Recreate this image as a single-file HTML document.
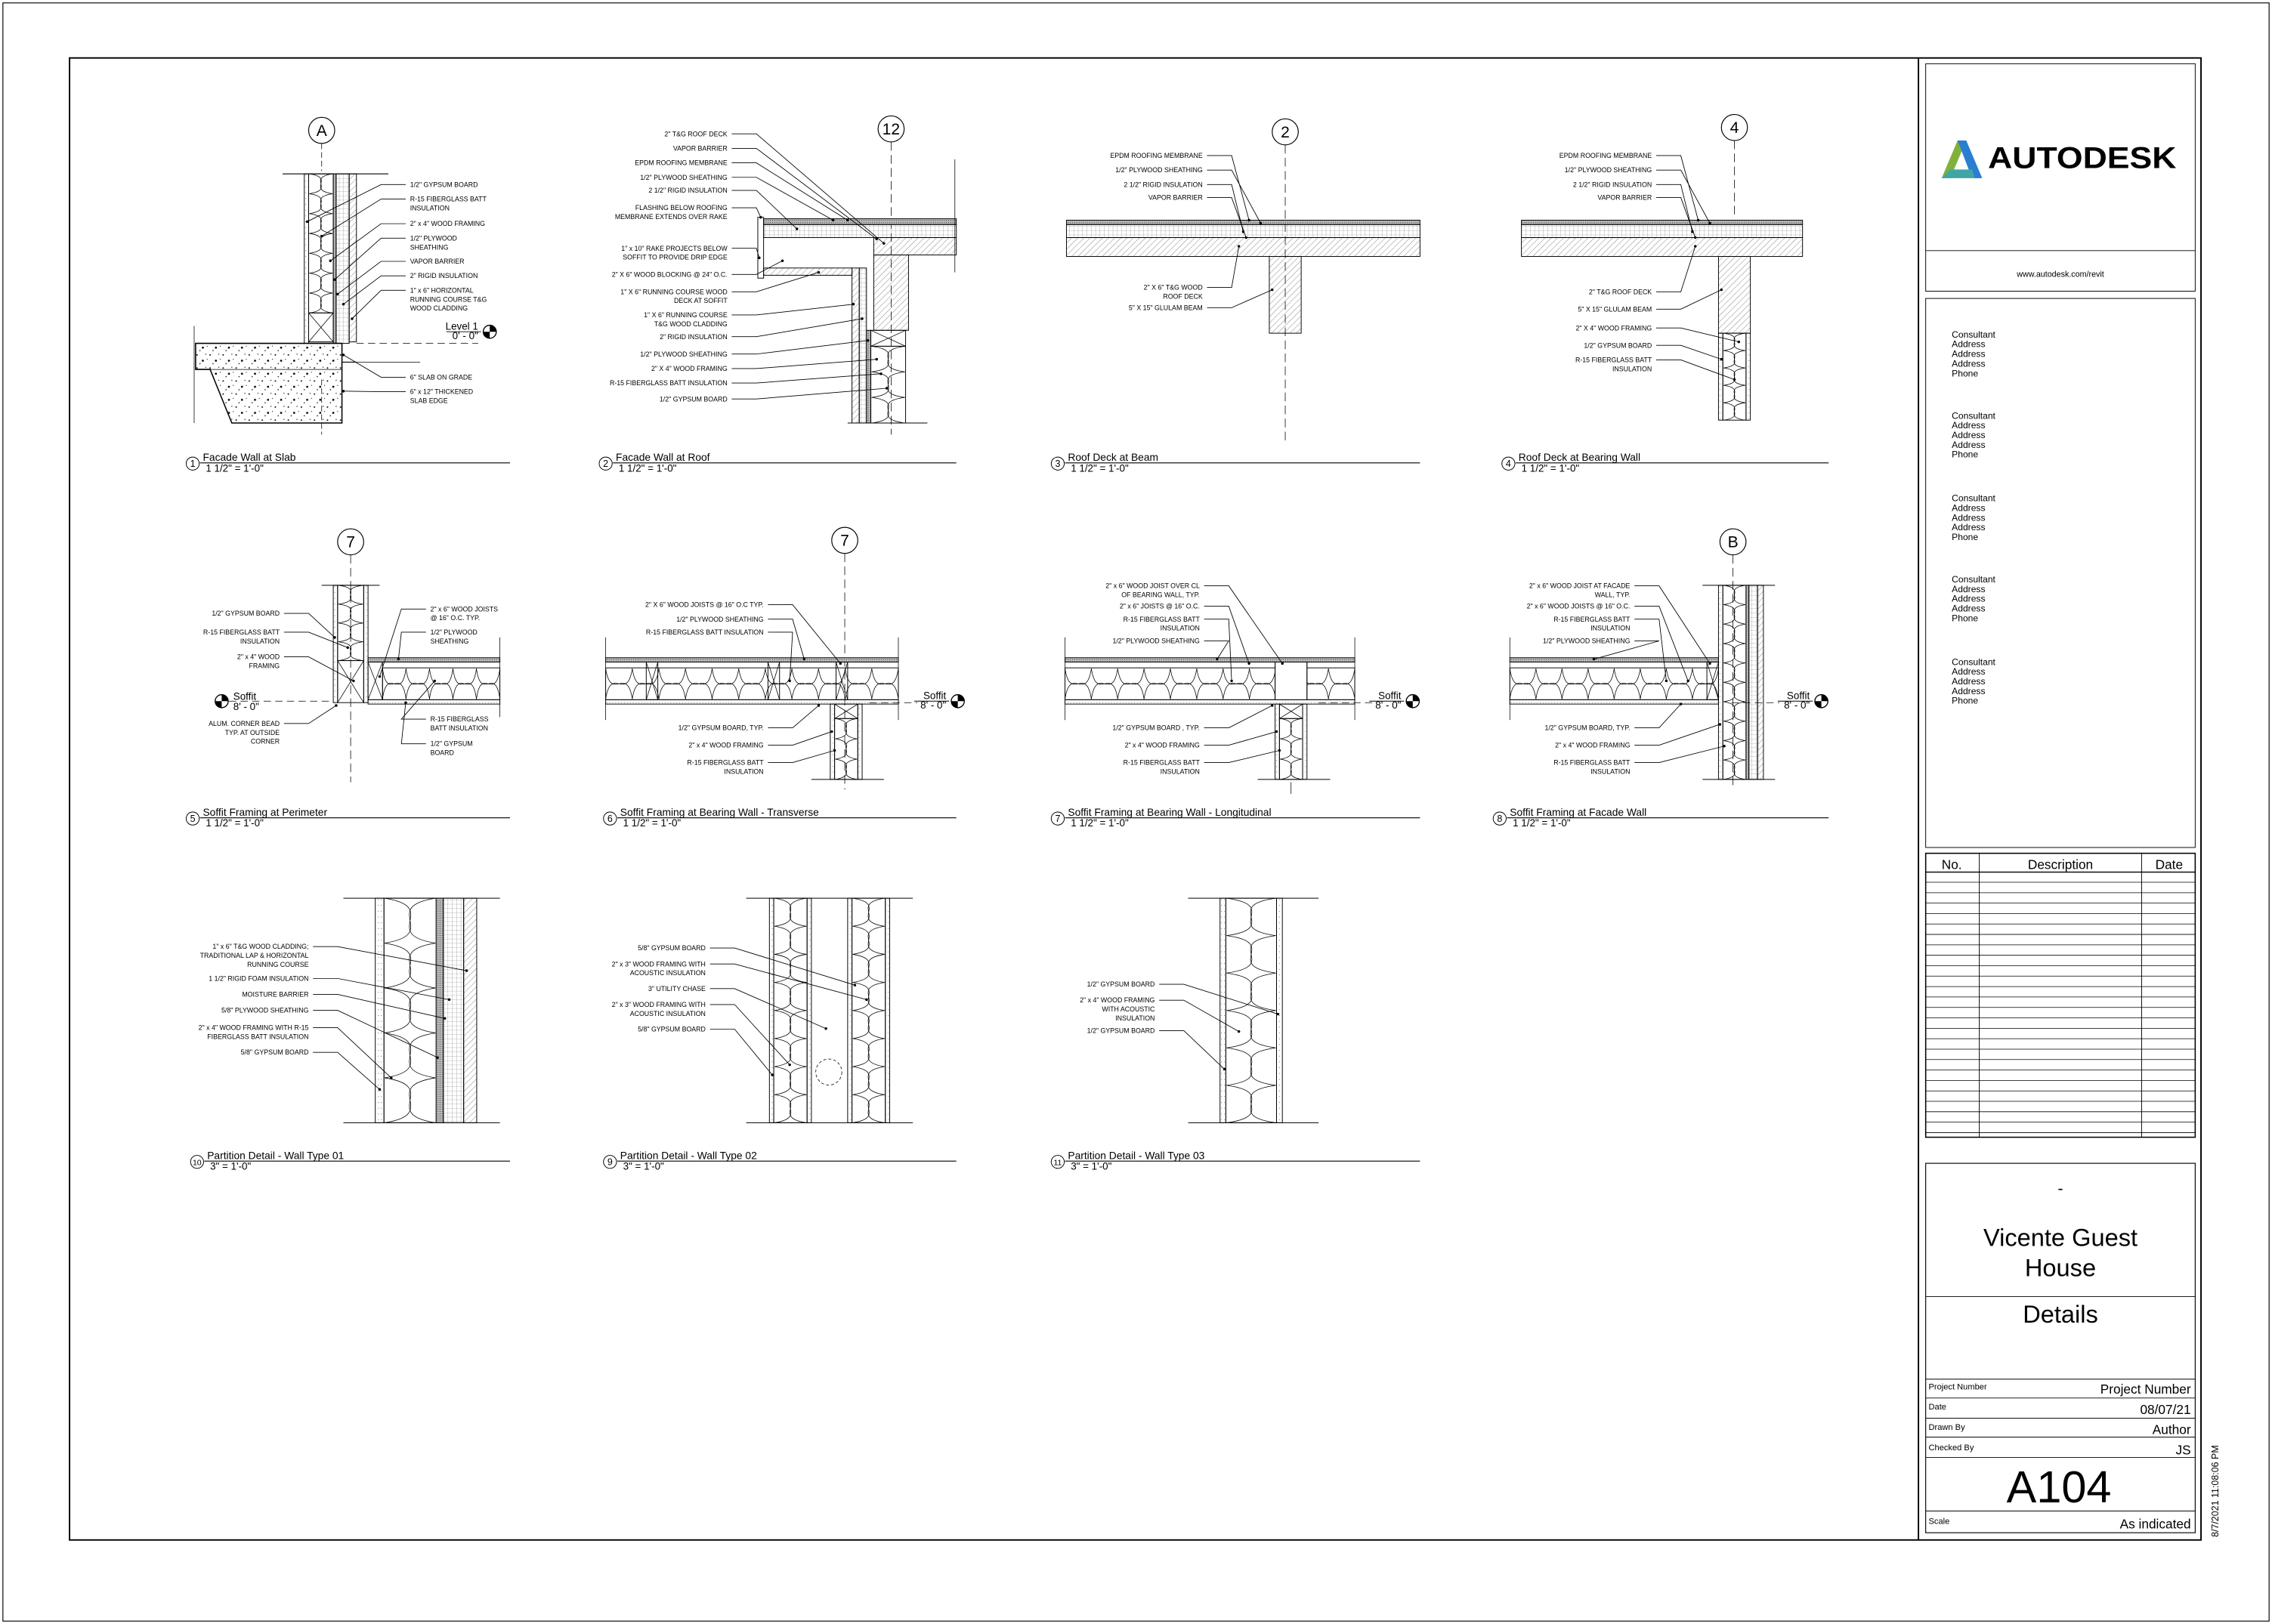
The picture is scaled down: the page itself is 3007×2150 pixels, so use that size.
<!DOCTYPE html>
<html><head><meta charset="utf-8"><style>
html,body{margin:0;padding:0;background:#fff}
svg{display:block}
text{font-family:"Liberation Sans",Arial,sans-serif;fill:#000}
</style></head><body>
<svg id="s" width="3007" height="2150" viewBox="0 0 1568 1121" preserveAspectRatio="none" xmlns="http://www.w3.org/2000/svg">
<defs>
<pattern id="rig" width="3" height="3" patternUnits="userSpaceOnUse"><path d="M0 0H3M0 0V3" stroke="#777" stroke-width="0.3" fill="none"/></pattern>
<pattern id="hat" width="3" height="3" patternUnits="userSpaceOnUse" patternTransform="rotate(45)"><path d="M0 0V3" stroke="#333" stroke-width="0.3"/></pattern>
<pattern id="con" width="9" height="9" patternUnits="userSpaceOnUse"><circle cx="1" cy="2" r="0.5"/><circle cx="5" cy="6" r="0.7"/><circle cx="7" cy="1.5" r="0.35"/><circle cx="3" cy="8" r="0.4"/><circle cx="8" cy="5" r="0.3"/></pattern>
<pattern id="gyp" width="2" height="4" patternUnits="userSpaceOnUse"><circle cx="1" cy="1" r="0.25" fill="#444"/></pattern>
<pattern id="ply" width="1.5" height="1.5" patternUnits="userSpaceOnUse"><rect width="1.5" height="1.5" fill="#bbb"/><circle cx=".7" cy=".7" r=".3" fill="#333"/></pattern>
</defs>
<g id="g" fill="none" stroke="#000" stroke-width="0.5"></g>
</svg>
<script>
var S=[];function p(s){S.push(s)}
function R(x,y,w,h,f,sw){p('<rect x="'+x+'" y="'+y+'" width="'+w+'" height="'+h+'" fill="'+(f||'none')+'" stroke="#000" stroke-width="'+(sw||0.5)+'"/>')}
function L(x1,y1,x2,y2,sw,da){p('<line x1="'+x1+'" y1="'+y1+'" x2="'+x2+'" y2="'+y2+'" stroke-width="'+(sw||0.5)+'"'+(da?' stroke-dasharray="'+da+'"':'')+'/>')}
function T(x,y,t,fs,an){p('<text x="'+x+'" y="'+y+'" font-size="'+fs+'" text-anchor="'+(an||'start')+'" stroke="none">'+t+'</text>')}
function battV(x,y,w,h){R(x,y,w,h);var n=Math.max(1,Math.round(h/(w*0.8))),d=h/n;for(var i=0;i<n;i++){var yy=y+i*d;p('<path d="M'+(x+0.5)+' '+yy+' C'+(x+w*1.1)+' '+(yy+d*0.2)+' '+(x-w*0.1)+' '+(yy+d*0.8)+' '+(x+w-0.5)+' '+(yy+d)+' M'+(x+w-0.5)+' '+yy+' C'+(x-w*0.1)+' '+(yy+d*0.2)+' '+(x+w*1.1)+' '+(yy+d*0.8)+' '+(x+0.5)+' '+(yy+d)+'" stroke-width="0.4"/>')}}
function battH(x,y,w,h){R(x,y,w,h);var n=Math.max(1,Math.round(w/(h*0.8))),d=w/n;for(var i=0;i<n;i++){var xx=x+i*d;p('<path d="M'+xx+' '+(y+h-0.5)+' C'+(xx+d*0.2)+' '+(y-h*0.1)+' '+(xx+d*0.8)+' '+(y+h*1.1)+' '+(xx+d)+' '+(y+0.5)+' M'+xx+' '+(y+0.5)+' C'+(xx+d*0.2)+' '+(y+h*1.1)+' '+(xx+d*0.8)+' '+(y-h*0.1)+' '+(xx+d)+' '+(y+h-0.5)+'" stroke-width="0.4"/>')}}
function X(x,y,w,h){R(x,y,w,h);L(x,y,x+w,y+h,0.4);L(x+w,y,x,y+h,0.4)}
function lab(tx,ty,lines,an,ax,ay){for(var i=0;i<lines.length;i++)T(tx,ty+i*6.2,lines[i],4.6,an);var y0=ty-1.6;var sx=an=='end'?tx+3:tx-3,ex=an=='end'?tx+20:tx-20;p('<polyline points="'+sx+','+y0+' '+ex+','+y0+' '+ax+','+ay+'" stroke-width="0.45"/>');p('<circle cx="'+ax+'" cy="'+ay+'" r="0.9" fill="#000" stroke="none"/>')}
function grid(x,y,t){p('<circle cx="'+x+'" cy="'+y+'" r="9" fill="#fff" stroke-width="0.6"/>');T(x,y+3.8,t,11,'middle')}
function title(cx,y,n,t,sc,x2){p('<circle cx="'+cx+'" cy="'+(y+2)+'" r="4.5" fill="#fff" stroke-width="0.5"/>');T(cx,y+4.3,n,n.length>1?5.5:6.5,'middle');T(cx+7,y,t,7.2);L(cx+5,y+1.5,x2,y+1.5,0.6);T(cx+9,y+7.5,sc,7)}
function lvl(x,y,a,b){p('<circle cx="'+x+'" cy="'+y+'" r="4.5" fill="#fff" stroke-width="0.7"/>');p('<path d="M'+x+' '+y+' L'+(x+4.5)+' '+y+' A4.5 4.5 0 0 0 '+x+' '+(y-4.5)+'Z M'+x+' '+y+' L'+(x-4.5)+' '+y+' A4.5 4.5 0 0 0 '+x+' '+(y+4.5)+'Z" fill="#000" stroke="none"/>');T(x-8,y-1.5,a,7,'end');T(x-8,y+5,b,7,'end');L(x-30,y,x-6,y,0.5)}
R(2,2,1564,1117,'none',0.6);R(48,40,1471,1023,'none',1);L(1324,40,1324,1063,1);
R(1329,44,186,157);L(1329,173,1515,173);
p('<path d="M1340 123 L1351 97 L1357 97 L1346 123Z" fill="#7fb13c" stroke="none"/><path d="M1351 97 L1357 97 L1368 123 L1361 123Z" fill="#2a7ed1" stroke="none"/><path d="M1340 123 L1346 117 L1361 117 L1363 123Z" fill="#3fa6a5" stroke="none"/>');
p('<text x="1372" y="116" font-size="21" font-weight="bold" stroke="none" fill="#2a2a2a" textLength="130" lengthAdjust="spacingAndGlyphs">AUTODESK</text>');
T(1422,191,'www.autodesk.com/revit',5.6,'middle');
R(1329,206,186,379);
[233,289,346,402,459].forEach(function(y){['Consultant','Address','Address','Address','Phone'].forEach(function(t,i){T(1347,y+i*6.7,t,6.3)})});
R(1329,589,186,196,'none',0.8);L(1329,602,1515,602,0.7);L(1366,589,1366,785,0.5);L(1478,589,1478,785,0.5);
T(1347,600,'No.',9,'middle');T(1422,600,'Description',9,'middle');T(1497,600,'Date',9,'middle');
for(var y=609;y<785;y+=7.2)L(1329,y,1515,y,0.4);
R(1329,803,186,255,'none',0.6);
T(1422,824,'-',11,'middle');T(1422,860,'Vicente Guest',17,'middle');T(1422,881,'House',17,'middle');L(1329,895,1515,895);T(1422,913,'Details',17,'middle');
L(1329,952,1515,952);L(1329,965,1515,965);L(1329,979,1515,979);L(1329,992,1515,992);L(1329,1006,1515,1006);L(1329,1043,1515,1043);
T(1331,959,'Project Number',5.8);T(1512,962,'Project Number',9,'end');
T(1331,973,'Date',5.8);T(1512,976,'08/07/21',9,'end');
T(1331,987,'Drawn By',5.8);T(1512,990,'Author',9,'end');
T(1331,1001,'Checked By',5.8);T(1512,1004,'JS',9,'end');
T(1421,1037,'A104',31,'middle');
T(1331,1052,'Scale',5.8);T(1512,1055,'As indicated',9,'end');
p('<text x="0" y="0" font-size="6.5" stroke="none" transform="translate(1531,1061) rotate(-90)">8/7/2021 11:08:06 PM</text>');

grid(222,90,'A');L(222,99,222,118,0.4,'4 2');
L(195,120,268,120,0.6);
R(210,120,3,117,'url(#gyp)');battV(213,120,17,96);X(213,216,17,20);R(230,120,2,117,'url(#ply)');R(232,120,9,117,'url(#rig)');R(241,120,5,116,'url(#hat)');
p('<path d="M135 237 L236 237 L236 292 L160 292 L145 255 L135 255Z" fill="url(#con)" stroke="#000" stroke-width="0.8"/>');L(135,255,236,255,0.4);L(236,250,246,250,0.6);
L(134,225,134,292,0.4);L(222,262,222,300,0.4,'4 2');
lvl(338,229,'Level 1',"0' - 0\"");L(246,237,330,237,0.4,'5 3');L(246,250,290,250,0.4);
lab(283,129,['1/2" GYPSUM BOARD'],'start',212,153);
lab(283,139,['R-15 FIBERGLASS BATT','INSULATION'],'start',222,163);
lab(283,156,['2" x 4" WOOD FRAMING'],'start',228,180);
lab(283,166,['1/2" PLYWOOD','SHEATHING'],'start',231,193);
lab(283,182,['VAPOR BARRIER'],'start',233,203);
lab(283,192,['2" RIGID INSULATION'],'start',237,210);
lab(283,202,['1" x 6" HORIZONTAL','RUNNING COURSE T&amp;G','WOOD  CLADDING'],'start',243,220);
lab(283,262,['6" SLAB ON GRADE'],'start',237,245);
lab(283,272,['6" x 12"  THICKENED','SLAB EDGE'],'start',237,270);
title(133,318,'1','Facade Wall at Slab','1 1/2" = 1\'-0"',352);

grid(615,89,'12');L(615,98,615,300,0.4,'6 3');
R(527,151,133,4,'url(#ply)');R(527,155,133,9,'url(#rig)');R(603,164,57,12,'url(#hat)');R(603,176,24,52,'url(#hat)');
R(523,150,4,42);R(527,185,61,5,'url(#hat)');R(588,185,5,107,'url(#hat)');R(593,185,5,107,'url(#rig)');R(598,228,3,64,'url(#ply)');X(601,228,24,11);battV(601,239,24,53);L(585,292,640,292,0.5);L(659,110,659,188,0.4);
var L2=[[94,['2" T&amp;G ROOF DECK'],610,168],[104,['VAPOR BARRIER'],605,165],[114,['EPDM ROOFING MEMBRANE'],585,152],[124,['1/2" PLYWOOD SHEATHING'],575,152],[133,['2 1/2" RIGID INSULATION'],550,158],[145,['FLASHING  BELOW ROOFING','MEMBRANE EXTENDS  OVER RAKE'],525,150],[173,['1" x 10" RAKE PROJECTS BELOW','SOFFIT TO PROVIDE DRIP EDGE'],524,178],[191,['2" X 6" WOOD BLOCKING @ 24" O.C.'],540,180],[203,['1" X 6" RUNNING COURSE WOOD','DECK AT SOFFIT'],565,188],[219,['1" X 6" RUNNING COURSE','T&amp;G WOOD CLADDING'],589,210],[234,['2" RIGID INSULATION'],595,220],[246,['1/2"  PLYWOOD SHEATHING'],599,235],[256,['2" X 4"  WOOD FRAMING'],605,248],[266,['R-15 FIBERGLASS BATT INSULATION'],608,258],[277,['1/2" GYPSUM BOARD'],612,268]];
L2.forEach(function(a){lab(502,a[0],a[1],'end',a[2],a[3])});
title(418,318,'2','Facade Wall at Roof','1 1/2" = 1\'-0"',660);

grid(887,91,'2');L(887,100,887,305,0.4,'6 3');
R(736,152,244,3,'url(#ply)');R(736,155,244,9,'url(#rig)');R(736,164,244,13,'url(#hat)');R(876,177,22,53,'url(#hat)');
lab(830,109,['EPDM ROOFING MEMBRANE'],'end',862,152);lab(830,119,['1/2" PLYWOOD SHEATHING'],'end',870,154);lab(830,129,['2 1/2" RIGID INSULATION'],'end',858,160);lab(830,138,['VAPOR BARRIER'],'end',860,164);
lab(830,200,['2" X  6" T&amp;G WOOD','ROOF DECK'],'end',855,170);lab(830,214,['5" X 15"  GLULAM BEAM'],'end',878,200);
title(730,318,'3','Roof Deck at Beam','1 1/2" = 1\'-0"',980);

grid(1197,88,'4');L(1197,97,1197,150,0.4,'6 3');
R(1050,152,194,3,'url(#ply)');R(1050,155,194,9,'url(#rig)');R(1050,164,194,13,'url(#hat)');R(1186,177,22,53,'url(#hat)');R(1186,230,3,60,'url(#gyp)');battV(1189,230,16,60);R(1205,230,3,60,'url(#gyp)');
lab(1140,109,['EPDM ROOFING MEMBRANE'],'end',1172,152);lab(1140,119,['1/2" PLYWOOD SHEATHING'],'end',1180,154);lab(1140,129,['2 1/2" RIGID INSULATION'],'end',1168,160);lab(1140,138,['VAPOR BARRIER'],'end',1170,164);
lab(1140,203,['2"  T&amp;G ROOF DECK'],'end',1170,170);lab(1140,215,['5" X 15"  GLULAM BEAM'],'end',1188,200);lab(1140,228,['2" X 4" WOOD FRAMING'],'end',1200,236);lab(1140,240,['1/2" GYPSUM BOARD'],'end',1188,248);lab(1140,250,['R-15 FIBERGLASS BATT','INSULATION'],'end',1197,262);
title(1041,318,'4','Roof Deck at Bearing Wall','1 1/2" = 1\'-0"',1262);

grid(242,374,'7');L(242,383,242,540,0.4,'6 3');
L(222,404,262,404,0.5);R(230,404,3,81,'url(#gyp)');battV(233,404,18,52);X(233,456,18,29);R(251,404,3,81,'url(#gyp)');
R(254,454,91,3,'url(#ply)');X(254,457,10,26);battH(264,461,81,22);R(254,483,91,3,'url(#gyp)');L(345,440,345,495,0.4);
p('<circle cx="153" cy="484" r="4.5" fill="#fff" stroke-width="0.7"/><path d="M153 484 L157.5 484 A4.5 4.5 0 0 0 153 479.5Z M153 484 L148.5 484 A4.5 4.5 0 0 0 153 488.5Z" fill="#000" stroke="none"/>');
T(161,483,'Soffit',7);T(161,490,"8' - 0\"",7);L(158,484,230,484,0.4,'5 3');
lab(193,425,['1/2" GYPSUM BOARD'],'end',231,440);lab(193,438,['R-15 FIBERGLASS BATT','INSULATION'],'end',240,447);lab(193,455,['2" x 4"  WOOD','FRAMING'],'end',244,470);
lab(193,501,['ALUM. CORNER BEAD','TYP. AT  OUTSIDE','CORNER'],'end',232,487);
lab(297,422,['2" x 6" WOOD JOISTS','@ 16" O.C. TYP.'],'start',262,467);lab(297,438,['1/2" PLYWOOD','SHEATHING'],'start',275,455);lab(297,498,['R-15 FIBERGLASS','BATT INSULATION'],'start',300,470);lab(297,515,['1/2" GYPSUM','BOARD'],'start',280,485);
title(133,563,'5','Soffit Framing at Perimeter','1 1/2" = 1\'-0"',352);

function joists(x1,x2,studs){L(x1,440,x1,497,0.4);R(x1,454,x2-x1,3,'url(#ply)');battH(x1,461,x2-x1,22);R(x1,483,x2-x1,3,'url(#gyp)');studs.forEach(function(s){X(s,457,8,26)})}
grid(583,373,'7');L(583,382,583,545,0.4,'6 3');
joists(418,620,[446,530,577]);L(620,440,620,497,0.4);
R(573,486,3,52,'url(#gyp)');X(576,486,16,10);battV(576,496,16,42);R(592,486,3,52,'url(#gyp)');L(560,538,610,538,0.5);
lvl(661,484,'Soffit',"8' - 0\"");L(600,485,633,485,0.4,'5 3');
lab(527,419,['2" X 6"  WOOD JOISTS @ 16" O.C TYP.'],'end',580,458);lab(527,429,['1/2" PLYWOOD SHEATHING'],'end',555,455);lab(527,438,['R-15 FIBERGLASS BATT INSULATION'],'end',545,470);
lab(527,504,['1/2" GYPSUM BOARD, TYP.'],'end',565,487);lab(527,516,['2" x 4" WOOD FRAMING'],'end',574,505);lab(527,528,['R-15 FIBERGLASS BATT','INSULATION'],'end',576,518);
title(421,563,'6','Soffit Framing at Bearing Wall - Transverse','1 1/2" = 1\'-0"',660);

joists(735,935,[]);L(935,440,935,497,0.4);R(880,457,22,26,'#fff');L(880,457,880,483);L(902,457,902,483);
R(880,486,3,52,'url(#gyp)');X(883,486,16,10);battV(883,496,16,42);R(899,486,3,52,'url(#gyp)');L(868,538,918,538,0.5);L(891,540,891,548,0.4);
lvl(975,484,'Soffit',"8' - 0\"");L(910,485,947,485,0.4,'5 3');
lab(828,406,['2" x 6" WOOD JOIST OVER CL','OF BEARING WALL, TYP.'],'end',885,458);lab(828,420,['2" x 6" JOISTS @ 16" O.C.'],'end',862,458);lab(828,429,['R-15 FIBERGLASS BATT','INSULATION'],'end',850,470);lab(828,444,['1/2" PLYWOOD SHEATHING'],'end',840,455);
lab(828,504,['1/2" GYPSUM BOARD , TYP.'],'end',878,487);lab(828,516,['2" x 4" WOOD FRAMING'],'end',881,505);lab(828,528,['R-15 FIBERGLASS BATT','INSULATION'],'end',883,518);
title(730,563,'7','Soffit Framing at Bearing Wall - Longitudinal','1 1/2" = 1\'-0"',980);

grid(1196,374,'B');L(1196,383,1196,545,0.4,'6 3');
joists(1042,1186,[1178]);
L(1175,404,1225,404,0.5);L(1175,538,1225,538,0.5);R(1186,404,3,134,'url(#gyp)');battV(1189,404,16,134);R(1205,404,2,134,'url(#ply)');R(1207,404,6,134,'url(#rig)');R(1213,404,4,134,'url(#hat)');
lvl(1257,484,'Soffit',"8' - 0\"");L(1195,485,1228,485,0.4,'5 3');
lab(1125,406,['2" x 6" WOOD JOIST AT FACADE','WALL, TYP.'],'end',1180,458);lab(1125,420,['2" x 6" WOOD JOISTS @ 16" O.C.'],'end',1165,470);lab(1125,429,['R-15 FIBERGLASS BATT','INSULATION'],'end',1150,470);lab(1125,444,['1/2" PLYWOOD SHEATHING'],'end',1100,455);
lab(1125,504,['1/2" GYPSUM BOARD, TYP.'],'end',1160,486);lab(1125,516,['2" x 4" WOOD FRAMING'],'end',1187,500);lab(1125,528,['R-15 FIBERGLASS BATT','INSULATION'],'end',1190,515);
title(1035,563,'8','Soffit Framing at Facade Wall','1 1/2" = 1\'-0"',1262);

L(237,620,345,620,0.5);L(237,775,345,775,0.5);
R(259,620,6,155,'url(#gyp)');battV(265,620,36,155);R(301,620,5,155,'url(#ply)');R(306,620,14,155,'url(#rig)');R(320,620,9,155,'url(#hat)');
lab(213,655,['1" x 6" T&amp;G WOOD CLADDING;','TRADITIONAL LAP &amp; HORIZONTAL','RUNNING COURSE'],'end',322,670);lab(213,677,['1 1/2" RIGID FOAM INSULATION'],'end',310,690);lab(213,688,['MOISTURE BARRIER'],'end',307,703);lab(213,699,['5/8" PLYWOOD SHEATHING'],'end',302,730);lab(213,711,['2" x 4" WOOD FRAMING WITH R-15','FIBERGLASS BATT INSULATION'],'end',270,744);lab(213,728,['5/8" GYPSUM BOARD'],'end',262,752);
title(136,800,'10','Partition Detail - Wall Type 01','3" = 1\'-0"',352);

L(515,620,630,620,0.5);L(515,775,630,775,0.5);
R(531,620,3,155,'url(#gyp)');battV(534,620,23,155);R(557,620,3,155,'url(#gyp)');R(585,620,3,155,'url(#gyp)');battV(588,620,23,155);R(611,620,3,155,'url(#gyp)');
p('<circle cx="572" cy="740" r="9" stroke-dasharray="2 1.5" stroke-width="0.4"/>');
lab(487,656,['5/8" GYPSUM BOARD'],'end',590,680);lab(487,667,['2" x 3" WOOD FRAMING WITH','ACOUSTIC INSULATION'],'end',598,690);lab(487,684,['3" UTILITY CHASE'],'end',570,710);lab(487,695,['2" x 3" WOOD FRAMING WITH','ACOUSTIC INSULATION'],'end',545,735);lab(487,712,['5/8" GYPSUM BOARD'],'end',533,742);
title(421,800,'9','Partition Detail - Wall Type 02','3" = 1\'-0"',660);

L(820,620,910,620,0.5);L(820,775,910,775,0.5);
R(842,620,4,155,'url(#gyp)');battV(846,620,35,155);R(881,620,4,155,'url(#gyp)');
lab(797,681,['1/2" GYPSUM BOARD'],'end',882,700);lab(797,692,['2" x 4" WOOD FRAMING','WITH ACOUSTIC','INSULATION'],'end',855,712);lab(797,713,['1/2" GYPSUM BOARD'],'end',845,738);
title(730,800,'11','Partition Detail - Wall Type 03','3" = 1\'-0"',980);

document.getElementById('g').innerHTML=S.join('');
</script>
</body></html>
